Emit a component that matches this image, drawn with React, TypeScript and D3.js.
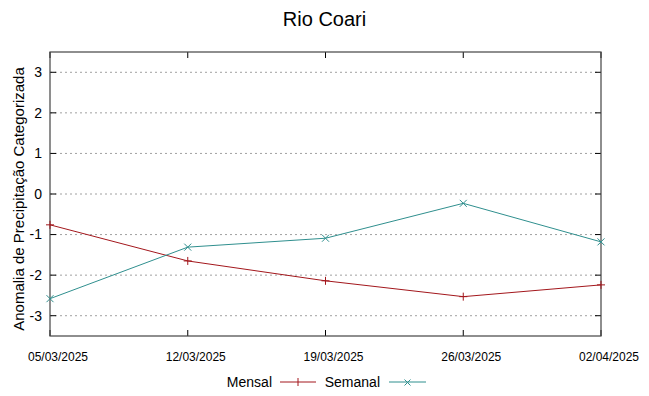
import React from 'react';
import * as d3 from 'd3';

const dates = ['05/03/2025', '12/03/2025', '19/03/2025', '26/03/2025', '02/04/2025'];
const mensal = [-0.76, -1.65, -2.14, -2.53, -2.24];
const semanal = [-2.58, -1.31, -1.09, -0.23, -1.18];
const yTicks = [-3, -2, -1, 0, 1, 2, 3];

const W = 649;
const H = 396;
const m = { left: 50, right: 48, top: 52, bottom: 60 };
const RED = '#a3171c';
const TEAL = '#2f8f8e';

const App = () => {
    const x = d3.scalePoint<string>().domain(dates).range([m.left, W - m.right]);
    const y = d3.scaleLinear().domain([-3.5, 3.5]).range([H - m.bottom, m.top]);

    const line = d3.line<number>()
        .x((_, i) => x(dates[i]) as number)
        .y(d => y(d));

    const x0 = m.left, x1 = W - m.right, y0 = m.top, y1 = H - m.bottom;

    return (
        <svg width={W} height={H} style={{ position: 'absolute', left: 0, top: 0 }}
            fontFamily="'Liberation Sans', Arial, sans-serif">
            <text x={W / 2} y={26} textAnchor="middle" fontSize={20}>Rio Coari</text>

            {yTicks.map(t => (
                <g key={t}>
                    <line x1={x0} x2={x1} y1={y(t)} y2={y(t)} stroke="#a0a0a0"
                        strokeDasharray="2,3" strokeWidth={1} />
                    <line x1={x0} x2={x0 + 6} y1={y(t)} y2={y(t)} stroke="#000" />
                    <line x1={x1 - 6} x2={x1} y1={y(t)} y2={y(t)} stroke="#000" />
                    <text x={x0 - 8} y={y(t)} dy="0.35em" textAnchor="end" fontSize={14}>{t}</text>
                </g>
            ))}

            {dates.map(d => (
                <g key={d}>
                    <line x1={x(d)} x2={x(d)} y1={y1} y2={y1 - 6} stroke="#000" />
                    <line x1={x(d)} x2={x(d)} y1={y0} y2={y0 + 6} stroke="#000" />
                    <text x={(x(d) as number) + 8} y={y1 + 25} textAnchor="middle" fontSize={12}
                        fontFamily="'Liberation Sans Narrow', 'Liberation Sans', sans-serif">{d}</text>
                </g>
            ))}

            <rect x={x0} y={y0} width={x1 - x0} height={y1 - y0} fill="none" stroke="#444" strokeWidth={1.2} />

            <text transform={`translate(24, ${(y0 + y1) / 2 + 5}) rotate(-90)`} textAnchor="middle" fontSize={15}>
                Anomalia de Precipitação Categorizada
            </text>

            <path d={line(mensal) ?? ''} fill="none" stroke={RED} strokeWidth={1} />
            {mensal.map((v, i) => {
                const px = x(dates[i]) as number, py = y(v);
                return <path key={i} d={`M${px - 4},${py}H${px + 4}M${px},${py - 4}V${py + 4}`} stroke={RED} />;
            })}

            <path d={line(semanal) ?? ''} fill="none" stroke={TEAL} strokeWidth={1} />
            {semanal.map((v, i) => {
                const px = x(dates[i]) as number, py = y(v);
                return <path key={i} d={`M${px - 3.5},${py - 3.5}L${px + 3.5},${py + 3.5}M${px - 3.5},${py + 3.5}L${px + 3.5},${py - 3.5}`} stroke={TEAL} />;
            })}

            <g fontSize={14}>
                <text x={272} y={387} textAnchor="end">Mensal</text>
                <line x1={280} x2={316} y1={382} y2={382} stroke={RED} />
                <path d="M298,378V386" stroke={RED} />
                <text x={380} y={387} textAnchor="end">Semanal</text>
                <line x1={389} x2={426} y1={382} y2={382} stroke={TEAL} />
                <path d="M404.5,379.5L410.5,385.5M404.5,385.5L410.5,379.5" stroke={TEAL} />
            </g>
        </svg>
    );
};

export default App;
